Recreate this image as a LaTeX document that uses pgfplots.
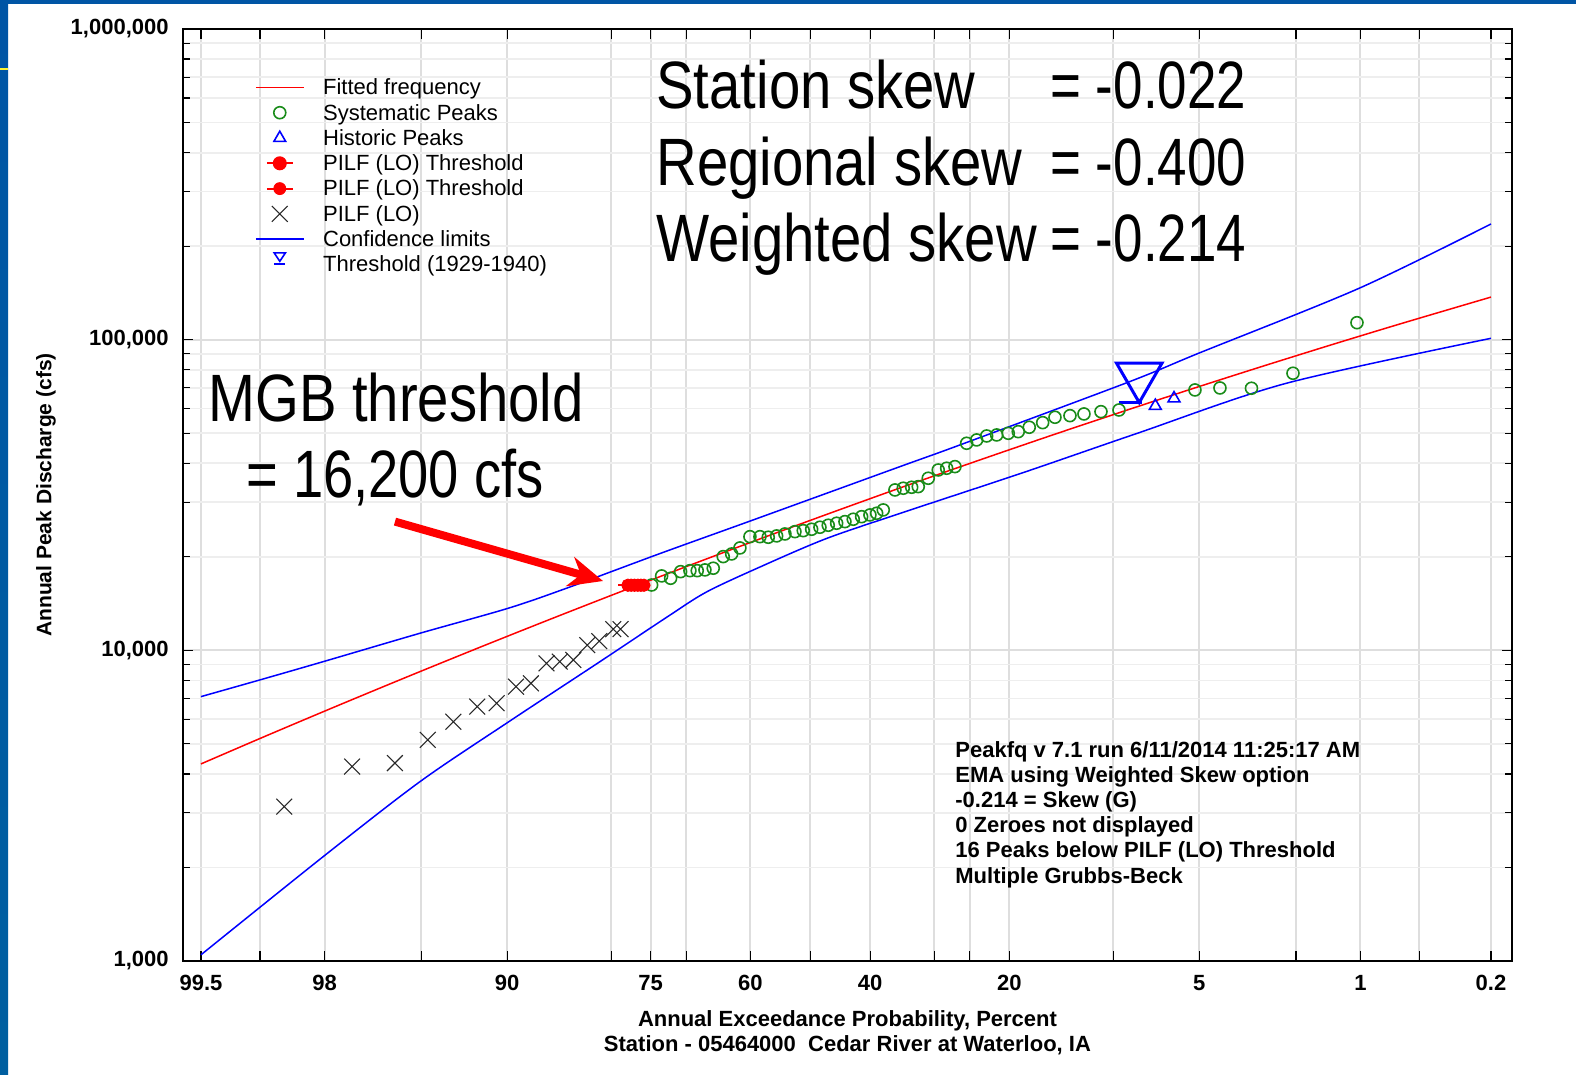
\documentclass[border=0pt]{standalone}
\usepackage{pgfplots}
\pgfplotsset{compat=1.18}
\usepackage{fontspec}
\setmainfont{Liberation Sans}
\newfontfamily\condfont[FakeStretch=0.84]{Liberation Sans}
\newfontfamily\condnum[FakeStretch=0.79]{Liberation Sans}
\newfontfamily\condcfs[FakeStretch=0.81]{Liberation Sans}
\usetikzlibrary{arrows.meta}
\definecolor{grn}{RGB}{25,140,25}
\definecolor{bandtop}{RGB}{0,85,165}
\definecolor{bandmid}{RGB}{0,10,205}
\definecolor{bandbot}{RGB}{0,95,160}
\definecolor{gridmaj}{RGB}{222,222,222}
\definecolor{gridmin}{RGB}{238,238,238}
\definecolor{crossc}{RGB}{40,40,40}
\begin{document}
\begin{tikzpicture}
\begin{scope}[x=0.5pt,y=-0.5pt]
\useasboundingbox (0,0) rectangle (1576,1075);
\fill[white] (0,0) rectangle (1576,1075);
\shade[top color=bandtop, middle color=bandmid, bottom color=bandbot] (0,0) rectangle (8,1075);
\fill[bandtop] (0,0) rectangle (1576,4);
\draw[yellow!80!white, line width=0.8pt] (0,69) -- (8,69);
\end{scope}
\begin{axis}[
  at={(91.5pt,-480.5pt)}, anchor=south west,
  scale only axis, width=664.5pt, height=466pt,
  xmin=-2.652, xmax=2.967,
  ymode=log, ymin=1000, ymax=1000000,
  xtick={-2.5758,-2.3263,-2.0537,-1.6449,-1.2816,-0.8416,-0.6745,-0.5244,-0.2533,0,0.2533,0.5244,0.6745,0.8416,1.2816,1.6449,2.0537,2.3263,2.5758,2.8782},
  xticklabels={99.5,,98,,90,,75,,60,,40,,,20,,5,,1,,0.2},
  ytick={1000,10000,100000,1000000},
  yticklabels={{1,000},{10,000},{100,000},{1,000,000}},
  minor ytick={2000,3000,4000,5000,6000,7000,8000,9000,20000,30000,40000,50000,60000,70000,80000,90000,200000,300000,400000,500000,600000,700000,800000,900000},
  grid=both,
  major grid style={gridmaj, line width=1pt},
  minor grid style={gridmin, line width=0.9pt},
  tick align=inside,
  major tick length=5pt, minor tick length=3.5pt,
  tick style={black, line width=0.6pt},
  axis line style={black, line width=0.8pt},
  ticklabel style={font=\bfseries\fontsize{11}{13}\selectfont},
  xticklabel style={inner sep=0pt, yshift=-7pt},
  yticklabel style={inner sep=0pt, xshift=-7pt},
  xlabel={Annual Exceedance Probability, Percent\\Station - 05464000\ \ Cedar River at Waterloo, IA},
  xlabel style={at={(axis description cs:0.5,-0.0526)}, anchor=north, inner sep=0pt, align=center, font=\bfseries\fontsize{11}{12.5}\selectfont},
  ylabel={Annual Peak Discharge (cfs)},
  ylabel style={at={(axis description cs:-0.1031,0.5)}, anchor=center, inner sep=0pt, font=\bfseries\fontsize{10.5}{12}\selectfont},
  legend style={at={(0.0542,0.9509)}, anchor=north west, draw=none, fill=none, inner sep=0pt, outer sep=0pt, row sep=0pt, column sep=9.3pt, font=\fontsize{11}{13}\selectfont, nodes={inner sep=0pt, text height=10pt, text depth=2.65pt}},
  legend cell align=left,
  legend image code/.code={\draw[mark repeat=2,mark phase=2,#1] plot coordinates {(0pt,0pt) (12pt,0pt) (24pt,0pt)};},
]
% Fitted frequency
\addplot[red, line width=0.75pt, smooth] coordinates {
(-2.576,4309) (-2.3,5307) (-2.0,6627) (-1.7,8240) (-1.4,10205) (-1.1,12585)
(-0.8,15457) (-0.5,18904) (-0.2,23026) (0.1,27925) (0.4,33750) (0.7,40580)
(1.0,48620) (1.3,58000) (1.6,68910) (1.9,81530) (2.2,96075) (2.5,112740) (2.878,137090)};
\addlegendentry{Fitted frequency}
% Systematic peaks
\addplot[only marks, mark=o, grn, mark size=3pt, line width=0.8pt] coordinates {
(-0.6706,16230) (-0.6283,17360) (-0.5903,17060) (-0.548,17920) (-0.5087,18050)
(-0.4778,18050) (-0.4452,18150) (-0.4101,18380) (-0.3679,20030) (-0.3323,20430)
(-0.2973,21360) (-0.255,23220) (-0.2127,23220) (-0.1776,23120) (-0.1421,23350)
(-0.107,23690) (-0.0647,24100) (-0.0296,24280) (0.0059,24530) (0.041,24900)
(0.0761,25270) (0.1116,25650) (0.1467,25960) (0.1818,26420) (0.2173,26930)
(0.2524,27280) (0.2808,27620) (0.3087,28310) (0.3581,32830) (0.3932,33250)
(0.4288,33490) (0.4567,33650) (0.4989,35800) (0.5412,38070) (0.5767,38560)
(0.6118,39030) (0.6613,46400) (0.7036,47560) (0.7459,48980) (0.7882,49350)
(0.8372,49960) (0.8795,50570) (0.926,52250) (0.9827,54060) (1.0347,56260)
(1.0981,56940) (1.1573,57660) (1.2292,58650) (1.3053,59380) (1.6266,68890)
(1.7323,69910) (1.8655,69770) (2.041,77980) (2.3116,113400)};
\addlegendentry{Systematic Peaks}
% Historic peaks
\addplot[only marks, mark=triangle, blue, mark size=3.4pt, line width=0.8pt] coordinates {
(1.459,61200) (1.538,64700)};
\addlegendentry{Historic Peaks}
% PILF threshold
\addplot[red, line width=1pt, mark=*, mark size=2.8pt, mark indices={2,3,4,5,6,7},
  legend image code/.code={\draw[red, line width=1pt] (5.5pt,0pt) -- (18.5pt,0pt); \fill[red] (12pt,0pt) circle (3pt);}]
  coordinates {(-0.812,16200) (-0.771,16200) (-0.757,16200) (-0.743,16200) (-0.729,16200) (-0.716,16200) (-0.703,16200)};
\addlegendentry{PILF (LO) Threshold}
\addlegendimage{legend image code/.code={\draw[red, line width=1pt] (5.5pt,0pt) -- (18.5pt,0pt); \fill[red] (12pt,0pt) circle (3pt);}}
\addlegendentry{PILF (LO) Threshold}
% PILF (LO)
\addplot[only marks, mark=x, crossc, mark size=5.6pt, line width=0.55pt] coordinates {
(-2.224,3140) (-1.937,4225) (-1.756,4335) (-1.617,5150) (-1.509,5890) (-1.408,6590)
(-1.326,6760) (-1.244,7640) (-1.181,7830) (-1.115,9080) (-1.059,9200) (-1.002,9310)
(-0.943,10390) (-0.892,10710) (-0.833,11700) (-0.802,11700)};
\addlegendentry{PILF (LO)}
% Confidence limits
\addplot[blue, line width=0.75pt, smooth] coordinates {
(-2.576,7096) (-2.327,8030) (-2.059,9196) (-1.650,11350) (-1.277,13660)
(-1.030,15850) (-0.636,20480) (-0.241,26290) (0.379,39020)
(0.633,45830) (1.350,73250) (1.641,90360) (2.321,146400) (2.878,235700)};
\addlegendentry{Confidence limits}
\addplot[blue, line width=0.75pt, smooth, forget plot] coordinates {
(-2.576,1047) (-2.059,2168) (-1.650,3779) (-1.277,5875) (-0.889,9196)
(-0.600,12880) (-0.438,15420) (-0.213,18540) (0.069,22910) (0.400,27920)
(0.900,37330) (1.383,49960) (2.013,72390) (2.878,101000)};
% Threshold 1929-1940
\addplot[only marks, mark=triangle, blue, mark size=13.1pt, line width=1.5pt, mark options={rotate=180},
  legend image code/.code={\draw[blue, line width=0.8pt] (9.2pt,5.8pt) -- (14.8pt,5.8pt) -- (12pt,1.6pt) -- cycle; \draw[blue, line width=0.8pt] (9.2pt,0.4pt) -- (14.8pt,0.4pt);}]
  coordinates {(1.391,76200)};
\addlegendentry{Threshold (1929-1940)}
\addplot[blue, line width=1.5pt, forget plot] coordinates {(1.304,62700) (1.401,62700)};
\end{axis}
\begin{scope}[x=0.5pt,y=-0.5pt]
\begin{scope}[every node/.style={anchor=base west, inner sep=0pt, font=\condfont\fontsize{33.5}{40}\selectfont}]
\node at (656,108.5) {Station skew};
\node at (656,186) {Regional skew};
\node at (656,261.3) {Weighted skew};
\node at (208,422) {MGB threshold};
\end{scope}
\begin{scope}[every node/.style={anchor=base west, inner sep=0pt, font=\condnum\fontsize{33.5}{40}\selectfont}]
\node at (1050,108.5) {= -0.022};
\node at (1050,186) {= -0.400};
\node at (1050,261.3) {= -0.214};
\end{scope}
\node[anchor=base west, inner sep=0pt, font=\condcfs\fontsize{33.5}{40}\selectfont] at (246,497.5) {= 16,200 cfs};
\draw[red, line width=4pt, -{Stealth[length=17pt, width=15pt]}] (395,521.6) -- (603,581);
\begin{scope}[every node/.style={anchor=base west, inner sep=0pt, font=\bfseries\fontsize{11}{13}\selectfont}]
\node at (955,757) {Peakfq v 7.1 run 6/11/2014 11:25:17 AM};
\node at (955,782.2) {EMA using Weighted Skew option};
\node at (955,807.4) {-0.214 = Skew (G)};
\node at (955,832.6) {0 Zeroes not displayed};
\node at (955,857.8) {16 Peaks below PILF (LO) Threshold};
\node at (955,883) {Multiple Grubbs-Beck};
\end{scope}
\end{scope}
\end{tikzpicture}
\end{document}
